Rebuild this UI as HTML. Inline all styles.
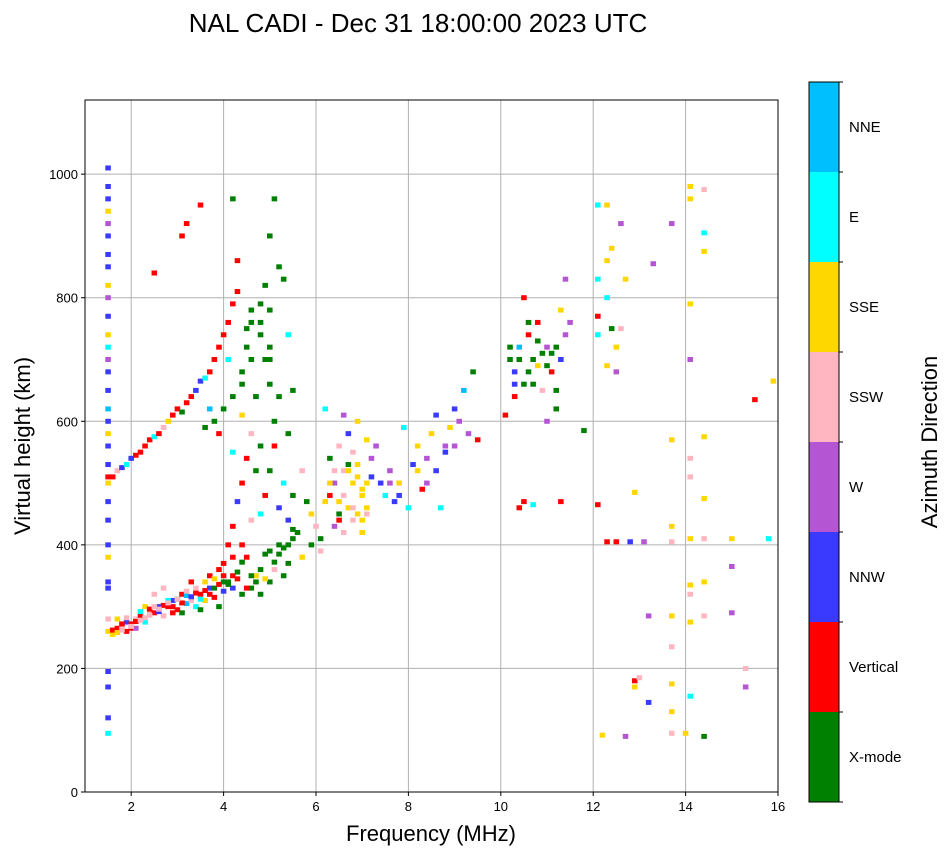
<!DOCTYPE html>
<html><head><meta charset="utf-8"><style>
body{margin:0;background:#fff;}
svg text{font-family:"Liberation Sans","DejaVu Sans",sans-serif;}
</style></head><body>
<svg id="chart" width="951" height="856" xmlns="http://www.w3.org/2000/svg">
<rect width="951" height="856" fill="#fff"/>
<text x="418" y="32" font-size="26" text-anchor="middle">NAL CADI - Dec 31 18:00:00 2023 UTC</text>
<g id="grid"></g>
<g id="marks"></g>
<rect x="85" y="100" width="693" height="692" fill="none" stroke="#000" stroke-width="1"/>
<g id="axes"></g>
<text x="431" y="841" font-size="22" text-anchor="middle">Frequency (MHz)</text>
<text transform="translate(30,446) rotate(-90)" font-size="22" text-anchor="middle">Virtual height (km)</text>
<g id="cbar"></g>
<text transform="translate(937,442) rotate(-90)" font-size="22" text-anchor="middle">Azimuth Direction</text>
</svg>
<script>
const dirLabels=["X-mode","Vertical","NNW","W","SSW","SSE","E","NNE"];
const dirColors=["#008000","#ff0000","#3a3aff","#b455d4","#ffb6c1","#ffd700","#00ffff","#00bfff"];
const xTicks=[2,4,6,8,10,12,14,16];
const yTicks=[0,200,400,600,800,1000];
const freq=[
1.5,1.5,1.5,1.5,1.5,1.5,1.5,1.5,1.5,1.5,1.5,1.5,1.5,1.5,1.5,1.5,1.5,1.5,1.5,1.5,1.5,1.5,1.5,1.5,1.5,1.5,1.5,1.5,1.5,1.5,1.5,1.5,1.5,1.5,1.5,
1.6,1.7,1.8,1.9,2.0,2.1,2.2,2.3,2.4,2.5,2.6,2.7,2.8,2.9,3.0,3.1,3.2,3.3,3.4,3.5,3.6,3.7,3.8,3.9,4.0,1.7,1.9,2.1,2.3,2.5,2.7,2.9,3.1,3.3,3.5,3.7,3.9,4.1,4.2,4.3,4.4,4.5,4.6,4.7,4.8,4.9,5.0,5.1,5.2,5.3,5.4,5.5,5.6,5.7,4.0,4.1,4.2,4.3,4.4,4.5,4.6,4.7,4.8,4.9,5.0,5.1,5.2,5.3,5.4,5.5,5.7,5.8,5.9,6.0,6.1,6.2,6.3,6.4,6.5,6.6,6.7,6.8,6.9,7.0,7.1,7.2,6.3,6.5,6.7,6.9,7.1,6.2,6.6,7.3,7.4,7.5,7.6,7.7,7.8,7.9,8.0,8.1,8.2,8.3,8.4,8.5,8.6,8.7,8.8,8.9,9.0,9.1,9.2,9.3,9.4,9.5,8.6,6.4,6.8,7.0,6.1,5.9,
1.6,1.7,1.8,1.9,2.0,2.1,2.2,2.3,2.4,2.5,2.6,2.7,2.8,2.9,3.0,3.1,3.2,3.3,3.4,3.5,3.6,3.7,3.8,3.9,4.0,4.1,4.2,4.3,4.3,4.2,3.5,3.2,3.1,2.5,3.6,3.8,4.0,4.2,4.4,4.6,4.8,5.0,5.0,4.9,5.2,5.1,5.3,4.7,4.4,4.1,3.9,3.7,5.0,4.8,5.4,5.5,4.5,5.4,4.2,
10.2,10.3,10.4,10.5,10.6,10.7,10.8,10.9,11.0,11.1,11.2,11.3,11.4,11.5,10.3,10.5,10.6,10.9,11.2,11.3,11.0,10.5,10.7,10.4,11.3,11.4,11.8,10.1,10.8,
12.1,12.3,12.4,12.6,12.3,12.7,12.1,12.3,12.1,12.4,12.5,12.6,12.1,12.3,12.5,12.1,12.3,12.5,12.8,13.1,12.9,12.9,12.9,13.2,13.2,13.0,13.3,13.7,13.7,13.7,13.7,13.7,13.7,13.7,13.7,13.7,12.7,12.2,14.1,14.1,14.1,14.1,14.1,14.1,14.1,14.1,14.1,14.1,14.1,14.4,14.4,14.4,14.4,14.4,14.4,14.4,14.4,14.4,15.0,15.0,15.0,15.3,15.3,15.5,15.9,15.8,14.0,
1.6,1.7,1.8,1.9,2.0,2.1,2.2,2.3,2.4,2.5,2.6,2.7,2.8,2.9,3.0,3.1,3.2,3.3,3.4,3.5,3.6,3.7,3.8,3.9,4.0,4.1,4.2,4.3,4.4,4.5,4.6,4.7,4.8,4.9,5.0,5.1,5.2,5.3,5.4,5.5,
1.8,2.0,2.2,2.4,2.6,2.8,3.0,3.2,3.4,3.6,3.8,4.0,4.2,4.4,4.6,
6.3,6.5,6.7,6.9,7.1,6.4,6.6,6.8,7.0,7.2,6.5,6.7,6.9,7.1,6.6,6.8,7.0,7.6,7.8,8.2,8.4,8.8,9.0,
4.4,4.6,4.8,5.0,5.2,4.5,4.7,4.9,5.1,4.6,4.8,5.0,10.2,10.4,10.6,10.8,11.0,11.2,10.3,10.7,11.1];
const height=[
95,120,170,195,260,280,330,340,380,400,440,470,500,510,530,560,580,600,620,650,680,700,720,740,770,800,820,850,870,900,920,940,960,980,1010,
255,265,270,275,265,280,285,275,290,290,300,285,300,310,295,320,305,310,300,320,310,330,315,300,325,280,260,265,300,320,330,290,290,340,295,350,360,340,330,345,320,380,330,350,320,385,340,360,400,350,370,410,420,380,370,400,430,470,500,540,580,520,450,480,520,560,460,500,440,480,520,470,450,430,410,470,480,500,440,520,460,500,530,480,450,510,540,560,580,600,570,620,610,560,500,480,520,470,500,590,460,530,560,490,540,580,520,460,560,590,620,600,650,580,680,570,610,430,440,420,390,400,
510,520,525,530,540,545,550,560,570,575,580,590,600,610,620,615,630,640,650,665,670,680,700,720,740,760,790,810,860,960,950,920,900,840,590,600,620,640,660,700,740,780,900,820,850,960,830,640,610,700,580,620,700,760,740,650,750,580,550,
700,680,720,660,740,700,690,710,720,680,650,700,740,760,640,800,760,650,620,780,600,470,465,460,470,830,585,610,760,
950,950,880,920,860,830,830,800,770,750,720,750,740,690,680,465,405,405,405,405,485,180,170,145,285,185,855,920,570,430,405,285,235,175,130,95,90,92,980,960,790,700,540,510,410,335,320,275,155,90,285,340,410,475,575,875,905,975,410,365,290,200,170,635,665,410,95,
262,258,272,282,272,276,292,282,296,300,292,302,310,300,312,306,318,316,322,312,326,320,330,336,340,336,350,356,372,330,350,340,360,345,390,372,385,395,400,425,
262,268,278,286,296,306,312,325,330,340,345,350,380,400,440,
500,470,520,450,500,520,480,460,490,540,450,530,510,460,420,550,440,500,480,520,500,550,560,
680,760,790,720,640,720,640,700,600,780,560,660,720,700,680,730,690,720,660,660,710];
const dir=[
6,2,2,2,5,4,2,2,5,2,2,2,5,1,2,2,5,2,7,2,2,3,6,5,2,3,5,2,2,2,3,5,2,2,2,
5,1,4,2,1,4,1,6,4,1,2,4,1,2,1,1,7,4,6,1,5,2,1,0,2,5,1,3,5,4,4,1,0,1,0,1,1,0,2,1,0,1,0,5,0,0,0,4,0,0,0,0,0,5,1,1,1,2,1,1,4,0,6,1,0,1,2,6,2,0,4,0,5,4,0,5,1,3,1,4,5,5,5,5,4,2,0,4,2,5,5,6,3,3,2,6,3,2,5,6,6,2,5,1,3,5,2,6,3,5,2,3,7,3,0,1,2,3,4,5,4,0,
1,4,2,6,2,1,1,1,1,6,1,4,5,1,1,0,1,1,2,2,6,1,1,1,1,1,1,1,1,0,1,1,1,1,0,0,0,0,0,0,0,0,0,0,0,0,0,7,5,6,1,7,0,0,6,0,0,0,6,
0,2,7,0,1,0,5,0,3,1,0,2,3,3,1,1,0,4,0,5,3,1,6,1,1,3,0,1,1,
6,5,5,3,5,5,6,6,1,0,5,4,6,5,3,1,1,1,2,3,5,1,5,2,3,4,3,3,5,5,4,5,4,5,5,4,3,5,5,5,5,3,4,4,5,5,4,5,6,0,4,5,4,5,5,5,6,4,5,3,3,4,3,1,5,6,5,
1,5,1,4,1,1,6,4,1,4,2,1,6,1,0,1,7,2,1,6,1,1,0,1,0,0,1,0,0,1,0,0,0,5,0,0,0,0,0,0,
4,4,4,4,4,4,4,4,4,5,5,1,1,1,4,
5,5,5,5,5,4,4,4,5,3,0,0,5,5,4,4,5,3,2,5,3,2,3,
0,0,0,0,0,0,0,0,0,0,0,0,0,0,0,0,0,0,2,0,0];
const NS="http://www.w3.org/2000/svg";
const X0=85,X1=778,Y0=792,Y1=100,FMIN=1,FMAX=16,HMIN=0,HMAX=1120;
function xs(f){return X0+(f-FMIN)/(FMAX-FMIN)*(X1-X0);}
function ys(h){return Y0-(h-HMIN)/(HMAX-HMIN)*(Y0-Y1);}
function mk(tag,attrs,parent){const e=document.createElementNS(NS,tag);for(const k in attrs)e.setAttribute(k,attrs[k]);parent.appendChild(e);return e;}
const grid=document.getElementById('grid'),axes=document.getElementById('axes'),marks=document.getElementById('marks'),cbar=document.getElementById('cbar');
xTicks.forEach(t=>{const x=xs(t);
 const g=mk('line',{x1:x,x2:x,y1:Y1,y2:Y0,stroke:'#b0b0b0','stroke-width':1},grid);
 
 
 mk('line',{x1:x,x2:x,y1:Y0,y2:Y0+4,stroke:'#000'},axes);
 const tx=mk('text',{x:x,y:Y0+19,'font-size':13,'text-anchor':'middle'},axes);tx.textContent=t;
 
 
});
yTicks.forEach(t=>{const y=ys(t);
 const g=mk('line',{x1:X0,x2:X1,y1:y,y2:y,stroke:'#b0b0b0','stroke-width':1},grid);
 
 
 mk('line',{x1:X0-4,x2:X0,y1:y,y2:y,stroke:'#000'},axes);
 const tx=mk('text',{x:X0-7,y:y+5,'font-size':13,'text-anchor':'end'},axes);tx.textContent=t;
 
 
});
const bw=xs(1.12)-xs(1);
for(let i=0;i<freq.length;i++){
 const r=mk('rect',{x:xs(freq[i])-bw/2,y:ys(height[i])-2.5,width:bw,height:5,fill:dirColors[dir[i]]},marks);
 
 
}
const CB0=802,CB1=82,cbx=809,cbw=30,seg=(CB0-CB1)/dirLabels.length;
dirLabels.forEach((lab,i)=>{
 const r=mk('rect',{x:cbx,y:CB0-(i+1)*seg,width:cbw,height:seg,fill:dirColors[i]},cbar);
 
 
 const yc=CB0-(i+0.5)*seg;
 mk('line',{x1:cbx+cbw,x2:cbx+cbw+4,y1:CB0-i*seg,y2:CB0-i*seg,stroke:'#000'},cbar);
 const tx=mk('text',{x:cbx+cbw+10,y:yc+5,'font-size':15},cbar);tx.textContent=lab;
 
 
});
mk('line',{x1:cbx+cbw,x2:cbx+cbw+4,y1:CB1,y2:CB1,stroke:'#000'},cbar);
mk('rect',{x:cbx,y:CB1,width:cbw,height:CB0-CB1,fill:'none',stroke:'#000'},cbar);
</script>
</body></html>
